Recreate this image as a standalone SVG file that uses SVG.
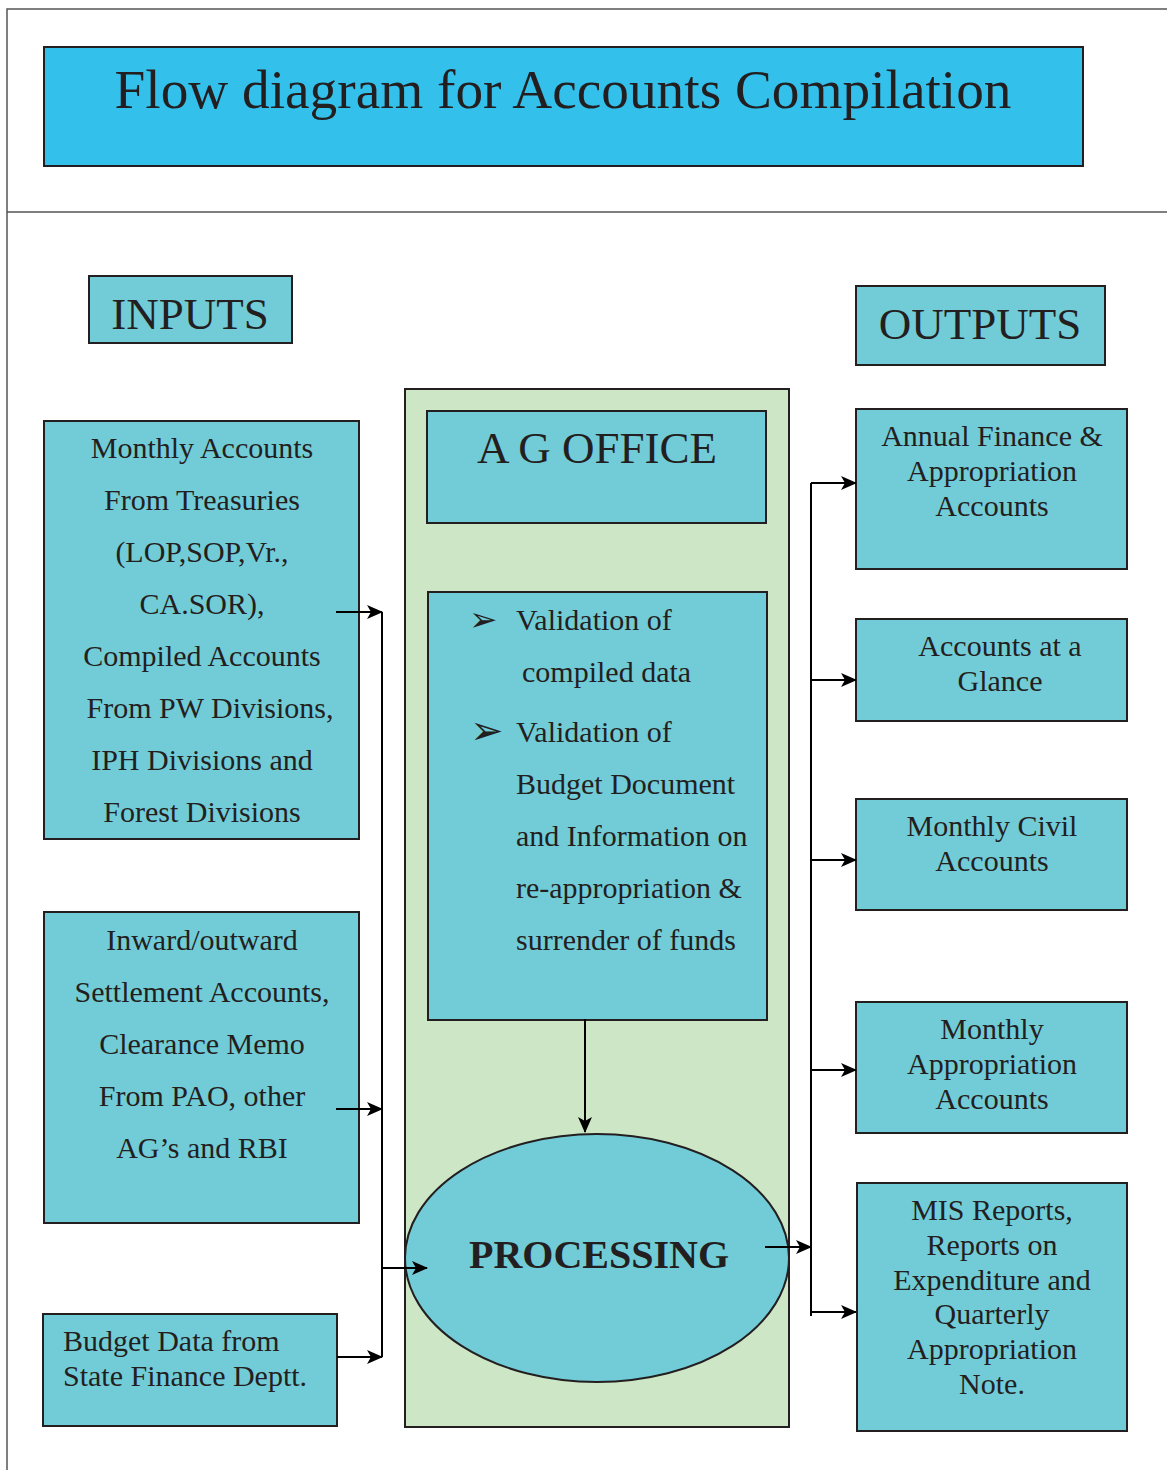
<svg xmlns="http://www.w3.org/2000/svg" width="1167" height="1470" viewBox="0 0 1167 1470">
<style>
.t{font-family:"Liberation Serif","Times New Roman",serif;fill:#231f20}
.box{fill:#72ccd8;stroke:#231f20;stroke-width:2}
.c{text-anchor:middle}
.s29{font-size:30px}
.ln{stroke:#000;stroke-width:2;fill:none}
.frame{stroke:#555;stroke-width:1.5;fill:none}
</style>
<defs>
<marker id="ah" markerUnits="userSpaceOnUse" markerWidth="16" markerHeight="14" refX="15" refY="7" orient="auto">
<path d="M0,0 L16,7 L0,14 L4,7 Z" fill="#000"/>
</marker>
</defs>
<rect width="1167" height="1470" fill="#fff"/>
<g id="frame">
<path class="frame" d="M7,1470 V9 H1167 M7,212 H1167"/>
</g>
<g id="title">
<rect x="44" y="47" width="1039" height="119" fill="#33c1ec" stroke="#231f20" stroke-width="2"/>
<text class="t" x="563" y="108" text-anchor="middle" font-size="55.3">Flow diagram for Accounts Compilation</text>
</g>
<g id="inputs-label">
<rect class="box" x="89" y="276" width="203" height="67"/>
<text class="t c" x="190" y="329" font-size="45">INPUTS</text>
</g>
<g id="outputs-label">
<rect class="box" x="856" y="286" width="249" height="79"/>
<text class="t c" x="980" y="339" font-size="45">OUTPUTS</text>
</g>
<g id="ag-office">
<rect x="405" y="389" width="384" height="1038" fill="#cde6c6" stroke="#231f20" stroke-width="2"/>
</g>
<g id="ag-title">
<rect class="box" x="427" y="411" width="339" height="112"/>
<text class="t c" x="597" y="463" font-size="45">A G OFFICE</text>
</g>
<g id="validation">
<rect class="box" x="428" y="592" width="339" height="428"/>
<text x="469" y="631" font-family="DejaVu Sans,sans-serif" font-size="34" fill="#231f20">➢</text>
<text x="470" y="744" font-family="DejaVu Sans,sans-serif" font-size="40" fill="#231f20">➢</text>
<g class="t s29">
<text x="516" y="630">Validation of</text>
<text x="522" y="682">compiled data</text>
<text x="516" y="742">Validation of</text>
<text x="516" y="794">Budget Document</text>
<text x="516" y="846">and Information on</text>
<text x="516" y="898">re-appropriation &amp;</text>
<text x="516" y="950">surrender of funds</text>
</g>
</g>
<g id="processing">
<ellipse cx="597" cy="1258" rx="192" ry="124" fill="#72ccd8" stroke="#231f20" stroke-width="2"/>
<text class="t c" x="599" y="1268" font-size="40" font-weight="bold">PROCESSING</text>
</g>
<g id="input1">
<rect class="box" x="44" y="421" width="315" height="418"/>
<g class="t c s29">
<text x="202" y="458">Monthly Accounts</text>
<text x="202" y="510">From Treasuries</text>
<text x="202" y="562">(LOP,SOP,Vr.,</text>
<text x="202" y="614">CA.SOR),</text>
<text x="202" y="666">Compiled Accounts</text>
<text x="210" y="718">From PW Divisions,</text>
<text x="202" y="770">IPH Divisions and</text>
<text x="202" y="822">Forest Divisions</text>
</g>
</g>
<g id="input2">
<rect class="box" x="44" y="912" width="315" height="311"/>
<g class="t c s29">
<text x="202" y="950">Inward/outward</text>
<text x="202" y="1002">Settlement Accounts,</text>
<text x="202" y="1054">Clearance Memo</text>
<text x="202" y="1106">From PAO, other</text>
<text x="202" y="1158">AG’s and RBI</text>
</g>
</g>
<g id="input3">
<rect class="box" x="43" y="1314" width="294" height="112"/>
<g class="t s29">
<text x="63" y="1351">Budget Data from</text>
<text x="63" y="1386">State Finance Deptt.</text>
</g>
</g>
<g id="output1">
<rect class="box" x="856" y="409" width="271" height="160"/>
<g class="t c s29">
<text x="992" y="446">Annual Finance &amp;</text>
<text x="992" y="481">Appropriation</text>
<text x="992" y="516">Accounts</text>
</g>
</g>
<g id="output2">
<rect class="box" x="856" y="619" width="271" height="102"/>
<g class="t c s29">
<text x="1000" y="656">Accounts at a</text>
<text x="1000" y="691">Glance</text>
</g>
</g>
<g id="output3">
<rect class="box" x="856" y="799" width="271" height="111"/>
<g class="t c s29">
<text x="992" y="836">Monthly Civil</text>
<text x="992" y="871">Accounts</text>
</g>
</g>
<g id="output4">
<rect class="box" x="856" y="1002" width="271" height="131"/>
<g class="t c s29">
<text x="992" y="1039">Monthly</text>
<text x="992" y="1074">Appropriation</text>
<text x="992" y="1109">Accounts</text>
</g>
</g>
<g id="output5">
<rect class="box" x="857" y="1183" width="270" height="248"/>
<g class="t c s29">
<text x="992" y="1220">MIS Reports,</text>
<text x="992" y="1255">Reports on</text>
<text x="992" y="1290">Expenditure and</text>
<text x="992" y="1324">Quarterly</text>
<text x="992" y="1359">Appropriation</text>
<text x="992" y="1394">Note.</text>
</g>
</g>
<g id="connectors">
<path class="ln" d="M382,612 V1357"/>
<path class="ln" d="M336,612 H382" marker-end="url(#ah)"/>
<path class="ln" d="M336,1109 H382" marker-end="url(#ah)"/>
<path class="ln" d="M337,1357 H382" marker-end="url(#ah)"/>
<path class="ln" d="M382,1268 H427" marker-end="url(#ah)"/>
<path class="ln" d="M585,1019 V1132" marker-end="url(#ah)"/>
<path class="ln" d="M765,1247 H811" marker-end="url(#ah)"/>
<path class="ln" d="M811,483 V1316"/>
<path class="ln" d="M811,483 H856" marker-end="url(#ah)"/>
<path class="ln" d="M811,680 H856" marker-end="url(#ah)"/>
<path class="ln" d="M811,860 H856" marker-end="url(#ah)"/>
<path class="ln" d="M811,1070 H856" marker-end="url(#ah)"/>
<path class="ln" d="M811,1312 H856" marker-end="url(#ah)"/>
</g>
</svg>
